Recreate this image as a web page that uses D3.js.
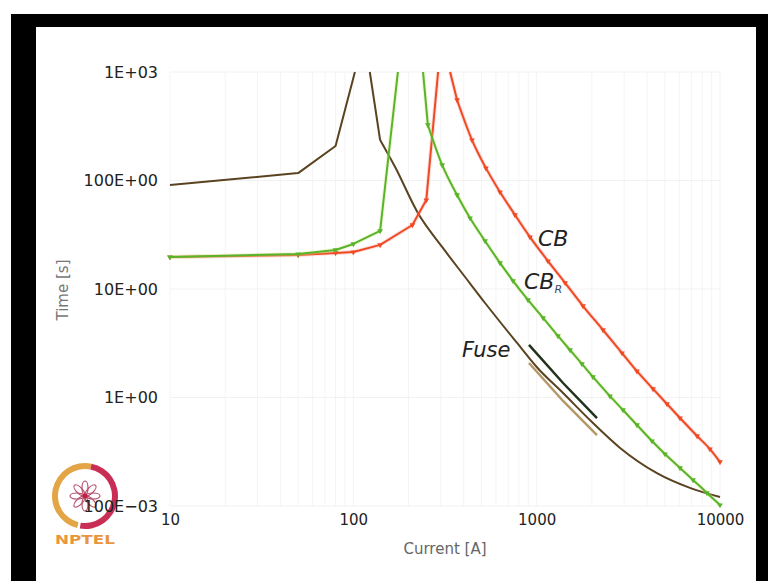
<!DOCTYPE html>
<html>
<head>
<meta charset="utf-8">
<script src="https://cdn.jsdelivr.net/npm/d3@7"></script>
<style>
  body { margin: 0; background: #fff; }
  svg { display: block; font-family: "DejaVu Sans", sans-serif; }
</style>
</head>
<body>
<div id="chart"></div>
<script>
// CB (red) characteristic
var cbLeftI  = [10, 50, 80, 100, 140, 210, 250, 290];
var cbLeftT  = [19.7, 20.6, 21.5, 21.9, 25.5, 38.9, 66, 1000];
var cbRightI = [337, 368, 444, 529, 631, 762, 920, 1153, 1429, 1790, 2301, 2922, 3524, 4315, 5140, 6053, 7499, 8813, 10000];
var cbRightT = [1000, 552, 236, 130, 78.3, 48.1, 30.1, 18.1, 11.4, 6.97, 4.19, 2.57, 1.75, 1.20, 0.871, 0.647, 0.442, 0.335, 0.255];

// CB_R (green) characteristic
var cbrLeftI  = [10, 50, 80, 100, 140, 175];
var cbrLeftT  = [19.7, 21.0, 22.9, 26.0, 34.3, 1000];
var cbrRightI = [240, 255, 305, 368, 433, 523, 631, 743, 897, 1084, 1307, 1520, 1766, 2028, 2512, 2958, 3524, 4258, 5012, 6053, 7129, 8492, 10000];
var cbrRightT = [1000, 325, 139, 73.5, 45.1, 27.7, 17.4, 11.9, 7.92, 5.41, 3.69, 2.74, 2.04, 1.55, 1.03, 0.767, 0.558, 0.397, 0.301, 0.224, 0.174, 0.132, 0.102];

// brown relay curve
var relayLeftI  = [10, 50, 80, 102];
var relayLeftT  = [91, 117, 208, 1000];
var relayRightI = [123, 140, 169, 225, 305, 407, 523, 782, 1000, 1393, 2003, 2851, 4529, 6855, 10000];
var relayRightT = [1000, 236, 133, 50.2, 24.4, 12.9, 7.43, 3.18, 1.91, 1.10, 0.594, 0.343, 0.201, 0.147, 0.121];

// fuse band
var fuseI    = [908, 1393, 2133];
var fuseMaxT = [3.05, 1.36, 0.647];
var fuseMinT = [2.08, 0.929, 0.451];

var xTicks = [10, 100, 1000, 10000];
var xTickLabels = ["10", "100", "1000", "10000"];
var yTicks = [0.1, 1, 10, 100, 1000];
var yTickLabels = ["100E\u221203", "1E+00", "10E+00", "100E+00", "1E+03"];

var W = 768, H = 581;
var svg = d3.select("#chart").append("svg")
    .attr("width", W).attr("height", H);

// frame
svg.append("rect").attr("x", 11).attr("y", 14).attr("width", W - 11).attr("height", H - 14).attr("fill", "#000");
svg.append("rect").attr("x", 36).attr("y", 27).attr("width", 720).attr("height", H - 27).attr("fill", "#fff");

var x = d3.scaleLog().domain([10, 10000]).range([170, 720]);
var y = d3.scaleLog().domain([0.1, 1000]).range([506, 72]);

// faint grid
var grid = svg.append("g");
var minorX = [];
[10, 100, 1000].forEach(function(d) { for (var k = 1; k < 10; k++) minorX.push(d * k); });
minorX.push(10000);
grid.selectAll(".gx").data(minorX).enter().append("line")
    .attr("x1", function(d) { return x(d); }).attr("x2", function(d) { return x(d); })
    .attr("y1", 72).attr("y2", 506)
    .attr("stroke", "#f4f4f4").attr("stroke-width", 1);
grid.selectAll(".gy").data(yTicks).enter().append("line")
    .attr("x1", 170).attr("x2", 720)
    .attr("y1", function(d) { return y(d); }).attr("y2", function(d) { return y(d); })
    .attr("stroke", "#f2f2f2").attr("stroke-width", 1);

// NPTEL logo
var logo = svg.append("g").attr("transform", "translate(85,496)");
var arc = d3.arc().innerRadius(27).outerRadius(33);
logo.append("path").attr("d", arc({startAngle: -2.9, endAngle: 0.2})).attr("fill", "#e3a545");
logo.append("path").attr("d", arc({startAngle: 0.2, endAngle: 3.3})).attr("fill", "#c92f55");
d3.range(8).forEach(function(i) {
  logo.append("ellipse").attr("cx", 0).attr("cy", -8).attr("rx", 3).attr("ry", 7)
      .attr("transform", "rotate(" + (i * 45) + ")")
      .attr("fill", "none").attr("stroke", "#b85070").attr("stroke-width", 1.2);
});
logo.append("circle").attr("r", 2.5).attr("fill", "#c02040");
svg.append("text").attr("x", 55).attr("y", 544).text("NPTEL")
    .attr("font-size", 12).attr("font-weight", "bold").attr("fill", "#e8953c")
    .attr("textLength", 60).attr("lengthAdjust", "spacingAndGlyphs");

// axes
var xAxis = d3.axisBottom(x).tickValues(xTicks).tickSize(0).tickPadding(8)
    .tickFormat(function(d, i) { return xTickLabels[i]; });
var gx = svg.append("g").attr("transform", "translate(0,506)").call(xAxis);
gx.select(".domain").remove();
gx.selectAll("text").attr("font-size", 15).attr("fill", "#222").attr("font-family", "DejaVu Sans");

var yAxis = d3.axisLeft(y).tickValues(yTicks).tickSize(0).tickPadding(12)
    .tickFormat(function(d, i) { return yTickLabels[i]; });
var gy = svg.append("g").attr("transform", "translate(170,0)").call(yAxis);
gy.select(".domain").remove();
gy.selectAll("text").attr("font-size", 16).attr("fill", "#222").attr("font-family", "DejaVu Sans");

svg.append("text").attr("transform", "translate(68,290) rotate(-90)")
    .attr("text-anchor", "middle").attr("font-size", 15).attr("fill", "#777").text("Time [s]");
svg.append("text").attr("x", 445).attr("y", 554)
    .attr("text-anchor", "middle").attr("font-size", 15).attr("fill", "#666").text("Current [A]");

function pts(I, T) { return I.map(function(d, i) { return [d, T[i]]; }); }
var lineLin = d3.line().x(function(d) { return x(d[0]); }).y(function(d) { return y(d[1]); });
var lineSmooth = d3.line().curve(d3.curveMonotoneX).x(function(d) { return x(d[0]); }).y(function(d) { return y(d[1]); });

function drawCurve(data, color, width, smooth, markers, halo) {
  if (halo) {
    svg.append("path").datum(data).attr("d", smooth ? lineSmooth : lineLin)
        .attr("fill", "none").attr("stroke", halo).attr("stroke-opacity", 0.35)
        .attr("stroke-width", width + 2).attr("stroke-linejoin", "round");
  }
  svg.append("path").datum(data).attr("d", smooth ? lineSmooth : lineLin)
      .attr("fill", "none").attr("stroke", color)
      .attr("stroke-width", width).attr("stroke-linejoin", "round");
  if (markers) {
    svg.selectAll(null).data(data.filter(function(d) { return d[1] < 1000; }))
      .enter().append("path")
      .attr("d", d3.symbol().type(d3.symbolTriangle).size(14))
      .attr("transform", function(d) { return "translate(" + x(d[0]) + "," + y(d[1]) + ") rotate(180)"; })
      .attr("fill", color);
  }
}

var relayRight = pts(relayRightI, relayRightT);
drawCurve(pts(relayLeftI, relayLeftT), "#5a4320", 2, false, false, null);
drawCurve(relayRight.slice(0, 2), "#5a4320", 2, false, false, null);
drawCurve(relayRight.slice(1), "#5a4320", 2, true, false, null);

var cbRight = pts(cbRightI, cbRightT);
var cbrRight = pts(cbrRightI, cbrRightT);
drawCurve(pts(cbLeftI, cbLeftT), "#f04a22", 2, false, true, "#f7a0a0");
drawCurve(cbRight.slice(0, 2), "#f04a22", 2, false, false, "#f7a0a0");
drawCurve(cbRight.slice(1), "#f04a22", 2, true, true, "#f7a0a0");
drawCurve(pts(cbrLeftI, cbrLeftT), "#58b42a", 2, false, true, "#d8e890");
drawCurve(cbrRight.slice(0, 2), "#58b42a", 2, false, false, "#d8e890");
drawCurve(cbrRight.slice(1), "#58b42a", 2, true, true, "#d8e890");

svg.append("path").datum(pts(fuseI, fuseMaxT)).attr("d", lineLin)
    .attr("fill", "none").attr("stroke", "#22321c").attr("stroke-width", 2.5);
svg.append("path").datum(pts(fuseI, fuseMinT)).attr("d", lineLin)
    .attr("fill", "none").attr("stroke", "#b49868").attr("stroke-width", 2.5);

// labels
svg.append("text").attr("x", 538).attr("y", 246).text("CB")
    .attr("font-size", 22).attr("font-style", "italic").attr("fill", "#222");
var cbr = svg.append("text").attr("x", 524).attr("y", 289)
    .attr("font-size", 22).attr("font-style", "italic").attr("fill", "#222");
cbr.append("tspan").text("CB");
cbr.append("tspan").text("R").attr("font-size", 11).attr("dy", 4).attr("fill", "#3a4a6a");
svg.append("text").attr("x", 462).attr("y", 357).text("Fuse")
    .attr("font-size", 21).attr("font-style", "italic").attr("fill", "#222");
</script>
</body>
</html>
